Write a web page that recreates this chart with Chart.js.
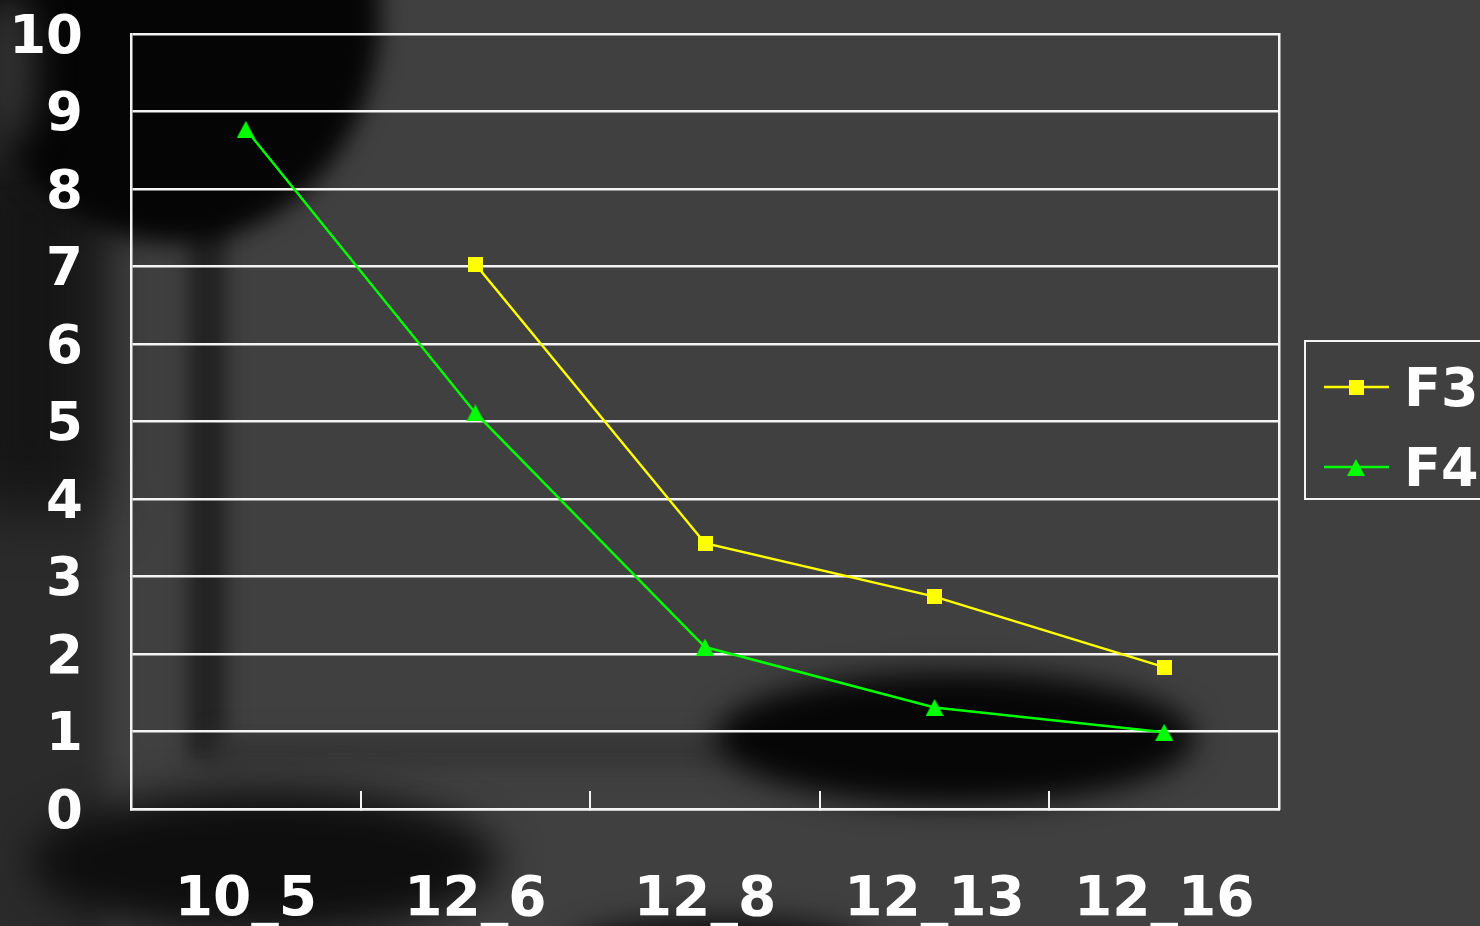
<!DOCTYPE html>
<html>
<head>
<meta charset="utf-8">
<title>F3 / F4</title>
<script src="https://cdn.jsdelivr.net/npm/chart.js@4/dist/chart.umd.min.js"></script>
<style>
  html, body { margin: 0; padding: 0; background: #404040; overflow: hidden; }
  #wrap { width: 1480px; height: 926px; }
</style>
</head>
<body>
<div id="wrap"><canvas id="chart" width="1480" height="926"></canvas></div>
<script>
// Categories along the x axis
const categories = ['10_5', '12_6', '12_8', '12_13', '12_16'];
// Series values (F3 has no reading for the first category)
const f3Values = [null, 7.03, 3.43, 2.74, 1.83];
const f4Values = [8.77, 5.11, 2.09, 1.31, 0.99];
// Value axis range
const yMin = 0;
const yMax = 10;
const yStep = 1;

const LINE_WHITE = '#f4f4f4';
const FONT_FAMILY = "'DejaVu Sans', Verdana, sans-serif";
const X_FONT = { family: FONT_FAMILY, weight: 'bold', size: 55 };
const Y_FONT = { family: FONT_FAMILY, weight: 'bold', size: 53 };

// Marker sprites: a filled square and an upright triangle centred in its box
function squareMarker(color, side) {
  const c = document.createElement('canvas');
  c.width = side; c.height = side;
  const g = c.getContext('2d');
  g.fillStyle = color;
  g.fillRect(0, 0, side, side);
  return c;
}
function triangleMarker(color, w, h) {
  const c = document.createElement('canvas');
  c.width = w; c.height = h;
  const g = c.getContext('2d');
  g.fillStyle = color;
  g.beginPath();
  g.moveTo(w / 2, 0);
  g.lineTo(w, h);
  g.lineTo(0, h);
  g.closePath();
  g.fill();
  return c;
}
const f3Marker = squareMarker('#ffff00', 15);
const f4Marker = triangleMarker('#00ff00', 18, 17);

// Dark, soft background with blurred shadows
const backdrop = {
  id: 'backdrop',
  beforeDraw(chart) {
    const ctx = chart.ctx;
    const W = chart.width, H = chart.height;
    ctx.save();
    ctx.fillStyle = '#404040';
    ctx.fillRect(0, 0, W, H);
    const blob = (x, y, rx, ry, color, blur) => {
      ctx.filter = 'blur(' + blur + 'px)';
      ctx.fillStyle = color;
      ctx.beginPath();
      ctx.ellipse(x, y, rx, ry, 0, 0, Math.PI * 2);
      ctx.fill();
    };
    const box = (x, y, w, h, color, blur) => {
      ctx.filter = 'blur(' + blur + 'px)';
      ctx.fillStyle = color;
      ctx.fillRect(x, y, w, h);
    };
    // left dark column, darker towards the top
    box(-40, -40, 145, 1010, '#2b2b2b', 14);
    box(-40, 150, 138, 360, '#151515', 30);
    // pole
    box(188, 200, 38, 560, '#222222', 10);
    // faint horizontal band
    box(210, 738, 520, 26, '#333333', 12);
    // dome at the top left
    blob(175, 15, 205, 228, '#050505', 12);
    // lighter smudge in the very corner
    blob(8, 70, 28, 80, '#333333', 18);
    // lower left shadow
    blob(265, 862, 235, 72, '#0e0e0e', 20);
    // bottom centre shadow
    blob(720, 945, 150, 28, '#111111', 14);
    // shadow under the right end of the lines
    blob(955, 738, 240, 66, '#060606', 15);
    ctx.restore();
  }
};

// Boxed legend at the right: short line with a marker, then the series name
const sideLegend = {
  id: 'sideLegend',
  afterDraw(chart) {
    const ctx = chart.ctx;
    const markers = [f3Marker, f4Marker];
    const rows = [387, 467];
    ctx.save();
    ctx.strokeStyle = LINE_WHITE;
    ctx.lineWidth = 2;
    ctx.strokeRect(1305, 341, 200, 158);
    chart.data.datasets.forEach((ds, i) => {
      const y = rows[i];
      ctx.strokeStyle = ds.borderColor;
      ctx.lineWidth = 2.5;
      ctx.beginPath();
      ctx.moveTo(1324, y);
      ctx.lineTo(1389, y);
      ctx.stroke();
      const m = markers[i];
      ctx.drawImage(m, Math.round(1356 - m.width / 2), Math.round(y - m.height / 2));
      ctx.fillStyle = '#ffffff';
      ctx.font = 'bold 54px ' + FONT_FAMILY;
      ctx.textAlign = 'left';
      ctx.textBaseline = 'alphabetic';
      ctx.fillText(ds.label, 1404, y + 19);
    });
    ctx.restore();
  }
};

new Chart(document.getElementById('chart'), {
  type: 'line',
  data: {
    labels: categories,
    datasets: [
      {
        label: 'F3',
        data: f3Values,
        borderColor: '#ffff00',
        backgroundColor: '#ffff00',
        borderWidth: 2.5,
        pointStyle: f3Marker,
        tension: 0,
        fill: false
      },
      {
        label: 'F4',
        data: f4Values,
        borderColor: '#00ff00',
        backgroundColor: '#00ff00',
        borderWidth: 2.5,
        pointStyle: f4Marker,
        tension: 0,
        fill: false
      }
    ]
  },
  options: {
    responsive: false,
    animation: false,
    devicePixelRatio: 1,
    events: [],
    layout: { padding: { left: 0, top: 34, right: 201, bottom: 0 } },
    plugins: {
      legend: { display: false },
      tooltip: { enabled: false }
    },
    scales: {
      x: {
        type: 'category',
        offset: true,
        grid: {
          display: true,
          offset: true,
          drawOnChartArea: false,
          drawTicks: true,
          tickLength: -18,
          color: LINE_WHITE,
          lineWidth: 2
        },
        border: { display: true, color: LINE_WHITE, width: 2.5 },
        ticks: {
          color: '#ffffff',
          font: X_FONT,
          padding: 77,
          maxRotation: 0,
          autoSkip: false
        },
        afterFit(scale) {
          scale.height = 117;
          scale.paddingLeft = 0;
          scale.paddingRight = 0;
        }
      },
      y: {
        min: yMin,
        max: yMax,
        grid: {
          color: LINE_WHITE,
          lineWidth: 2.5,
          drawTicks: false
        },
        border: { display: true, color: LINE_WHITE, width: 2.5 },
        ticks: {
          stepSize: yStep,
          color: '#ffffff',
          font: Y_FONT,
          padding: 48,
          labelOffset: 5
        },
        afterFit(scale) {
          scale.width = 131;
          scale.paddingTop = 0;
          scale.paddingBottom = 0;
        }
      },
      frameRight: {
        type: 'linear',
        position: 'right',
        display: true,
        grid: { drawOnChartArea: false, drawTicks: false },
        border: { display: true, color: LINE_WHITE, width: 2.5 },
        ticks: { display: false },
        afterFit(scale) {
          scale.width = 0;
          scale.paddingTop = 0;
          scale.paddingBottom = 0;
        }
      }
    }
  },
  plugins: [backdrop, sideLegend]
});
</script>
</body>
</html>
